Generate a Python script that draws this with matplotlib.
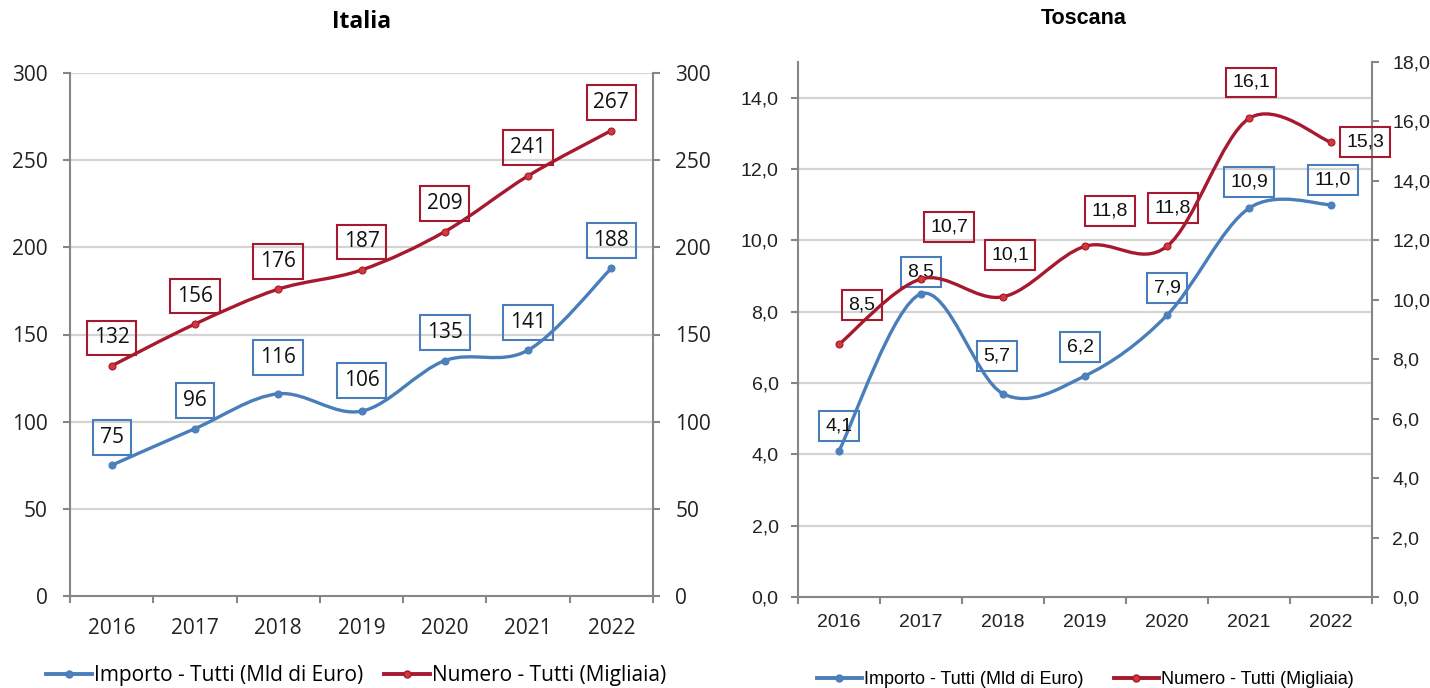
import numpy as np
import matplotlib

matplotlib.use("Agg")
import matplotlib.pyplot as plt
from matplotlib.path import Path
from matplotlib.patches import PathPatch
from matplotlib.lines import Line2D
from matplotlib.ticker import FuncFormatter, MultipleLocator

# --- data ---
years = ["2016", "2017", "2018", "2019", "2020", "2021", "2022"]

ita_importo = [75, 96, 116, 106, 135, 141, 188]
ita_numero = [132, 156, 176, 187, 209, 241, 267]

tos_importo = [4.1, 8.5, 5.7, 6.2, 7.9, 10.9, 11.0]
tos_numero = [8.5, 10.7, 10.1, 11.8, 11.8, 16.1, 15.3]

legend_labels = ["Importo - Tutti (Mld di Euro)", "Numero - Tutti (Migliaia)"]

# label offsets in pixels (placement only)
ita_imp_off = [(0, 28), (0, 28), (0, 36), (0, 31), (0, 28), (0, 28), (0, 28)]
ita_num_off = [(0, 28)] * 7
tos_imp_off = [(0, 25), (0, 22), (-6, 38), (-5, 29), (0, 27), (0, 26), (2, 25)]
tos_num_off = [(23, 39), (28, 52), (7, 42), (25, 35), (6, 38), (2, 36), (34, 0)]

BLUE = "#4A7EBB"
RED = "#A6192E"
BLUE_MK = "#4F81BD"
RED_MK = "#D23A3A"
GRID = "#D4D4D4"
SPINE = "#868686"


def smooth_path(xs, ys):
    # Excel-like smoothed line: cubic Bezier segments through the points
    pts = np.column_stack([xs, ys]).astype(float)
    n = len(pts)
    verts = [pts[0]]
    codes = [Path.MOVETO]
    for i in range(n - 1):
        p0 = pts[i - 1] if i > 0 else pts[i]
        p1, p2 = pts[i], pts[i + 1]
        p3 = pts[i + 2] if i + 2 < n else pts[i + 1]
        verts += [p1 + (p2 - p0) / 6, p2 - (p3 - p1) / 6, p2]
        codes += [Path.CURVE4] * 3
    return Path(verts, codes)


def draw_series(ax, vals, color, mk, z):
    x = np.arange(len(vals))
    ax.add_patch(PathPatch(smooth_path(x, vals), fill=False, edgecolor=color,
                           lw=2.4, zorder=z, capstyle="round"))
    ax.plot(x, vals, "o", ms=5, color=mk, mec=color, mew=0.8, zorder=z + 0.1)


def add_labels(ax, vals, offsets, color, fmt, font, size):
    for i, (v, off) in enumerate(zip(vals, offsets)):
        ax.annotate(fmt(v), (i, v), xytext=off, textcoords="offset pixels",
                    ha="center", va="center", fontsize=size, family=font,
                    color="#111111", zorder=10,
                    bbox=dict(boxstyle="square,pad=0.33", fc="none", ec=color, lw=1.5))


def style_axes(ax, axr, ymax_l, ymax_r, step_l, step_r, fmt, font, size,
               ypad_l, ypad_r, xpad, top_line):
    n = len(years)
    ax.set_xlim(-0.5, n - 0.5)
    ax.set_ylim(0, ymax_l)
    axr.set_ylim(0, ymax_r)
    ax.set_xticks(np.arange(n + 1) - 0.5)
    ax.set_xticklabels([])
    ax.set_xticks(np.arange(n), minor=True)
    ax.set_xticklabels(years, minor=True, family=font, fontsize=size, color="#222222")
    ax.tick_params(axis="x", which="major", direction="out", length=5, width=1.5, color=SPINE)
    ax.tick_params(axis="x", which="minor", length=0, pad=xpad)
    ax.yaxis.set_major_locator(MultipleLocator(step_l))
    axr.yaxis.set_major_locator(MultipleLocator(step_r))
    ax.yaxis.set_major_formatter(FuncFormatter(lambda v, p: fmt(v)))
    axr.yaxis.set_major_formatter(FuncFormatter(lambda v, p: fmt(v)))
    ax.tick_params(axis="y", direction="out", length=5, width=1.5, color=SPINE, pad=ypad_l,
                   labelsize=size, labelcolor="#222222")
    axr.tick_params(axis="y", direction="out", length=5, width=1.5, color=SPINE, pad=ypad_r,
                    labelsize=size, labelcolor="#222222")
    for lab in ax.get_yticklabels() + axr.get_yticklabels():
        lab.set_family(font)
    gl = np.arange(step_l, ymax_l + 1e-9 if top_line else ymax_l - 1e-9, step_l)
    for g in gl:
        ax.axhline(g, color=GRID, lw=1.6, zorder=0)
    for a in (ax, axr):
        a.spines["top"].set_visible(False)
        for s in ("left", "right", "bottom"):
            a.spines[s].set_color(SPINE)
            a.spines[s].set_linewidth(1.5)
    ax.spines["right"].set_visible(False)
    axr.spines["left"].set_visible(False)
    axr.spines["bottom"].set_visible(False)


fig = plt.figure(figsize=(14.3, 6.88), dpi=100)

# --- Italia ---
f_ita = "Open Sans"
ax1 = fig.add_axes([70 / 1430, 92 / 688, 583 / 1430, 523 / 688])
ax1r = ax1.twinx()
ita_fmt = lambda v: f"{v:.0f}"
style_axes(ax1, ax1r, 300, 300, 50, 50, ita_fmt, f_ita, 15, 11, 11, 16, True)
draw_series(ax1, ita_importo, BLUE, BLUE_MK, 3)
draw_series(ax1r, ita_numero, RED, RED_MK, 3)
add_labels(ax1, ita_importo, ita_imp_off, BLUE, ita_fmt, f_ita, 15)
add_labels(ax1r, ita_numero, ita_num_off, RED, ita_fmt, f_ita, 15)
fig.text(362 / 1430, 1 - 22 / 688, "Italia", ha="center", va="center",
         family=f_ita, fontsize=16.5, fontweight="bold")

# --- Toscana ---
f_tos = "Liberation Sans"
ax2 = fig.add_axes([798 / 1430, 91 / 688, 574 / 1430, 535 / 688])
ax2r = ax2.twinx()
tos_fmt = lambda v: f"{v:.1f}".replace(".", ",")
style_axes(ax2, ax2r, 15, 18, 2, 2, tos_fmt, f_tos, 14, 9, 9.5, 12, False)
draw_series(ax2, tos_importo, BLUE, BLUE_MK, 3)
draw_series(ax2r, tos_numero, RED, RED_MK, 3)
add_labels(ax2, tos_importo, tos_imp_off, BLUE, tos_fmt, f_tos, 14)
add_labels(ax2r, tos_numero, tos_num_off, RED, tos_fmt, f_tos, 14)
fig.text(1084 / 1430, 1 - 18 / 688, "Toscana", ha="center", va="center",
         family=f_tos, fontsize=15.5, fontweight="bold")

# --- legends ---
def handles():
    return [Line2D([], [], color=BLUE, lw=2.8, marker="o", ms=5, mfc=BLUE_MK, mec=BLUE),
            Line2D([], [], color=RED, lw=2.8, marker="o", ms=5, mfc=RED_MK, mec=RED)]


fig.legend(handles(), legend_labels, loc="center", bbox_to_anchor=(356 / 1430, 12 / 688),
           ncol=2, frameon=False, handlelength=2.2, handletextpad=0.1, columnspacing=1.0,
           prop={"family": f_ita, "size": 15})
fig.legend(handles(), legend_labels, loc="center", bbox_to_anchor=(1085 / 1430, 8 / 688),
           ncol=2, frameon=False, handlelength=2.5, handletextpad=0.1, columnspacing=1.7,
           prop={"family": f_tos, "size": 13})

fig.savefig("out.png", dpi=100)
